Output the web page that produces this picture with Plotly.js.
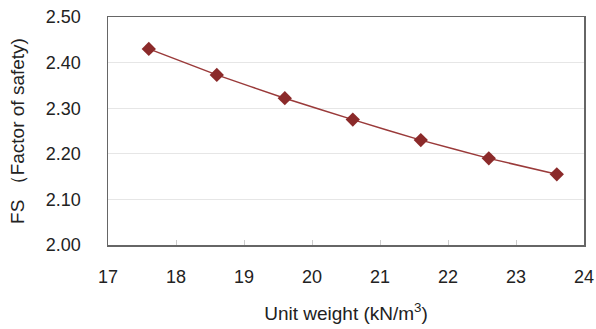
<!DOCTYPE html>
<html>
<head>
<meta charset="utf-8">
<script src="https://cdn.plot.ly/plotly-3.0.1.min.js"></script>
<style>html,body{margin:0;padding:0;background:#fff;}#chart{width:596px;height:329px;}</style>
</head>
<body>
<div id="chart"></div>
<script>
var unitWeight = [17.6, 18.6, 19.6, 20.6, 21.6, 22.6, 23.6];
var factorOfSafety = [2.430, 2.373, 2.322, 2.275, 2.230, 2.190, 2.155];
var xTicks = [17, 18, 19, 20, 21, 22, 23, 24];
var yTicks = [2.00, 2.10, 2.20, 2.30, 2.40, 2.50];
var yTickLabels = yTicks.map(function(v){ return v.toFixed(2); });

var trace = {
  x: unitWeight,
  y: factorOfSafety,
  type: 'scatter',
  mode: 'lines+markers',
  line: {color: '#9a3a3a', width: 1.5, shape: 'spline', smoothing: 0.3},
  marker: {symbol: 'diamond', size: 11, color: '#8b2a2a'},
  hoverinfo: 'x+y'
};

var fontFam = '"Liberation Sans", Arial, sans-serif';
var layout = {
  width: 596, height: 329,
  margin: {l: 108, r: 12, t: 17, b: 84},
  paper_bgcolor: '#fff', plot_bgcolor: '#fff',
  showlegend: false,
  font: {family: fontFam, color: '#222', size: 18},
  xaxis: {
    range: [17, 24], tickvals: xTicks, ticktext: xTicks.map(String),
    showgrid: false, zeroline: false,
    showline: true, mirror: true, linecolor: '#666', linewidth: 1.5,
    ticks: 'inside', ticklen: 5, tickcolor: '#ccc', tickwidth: 1,
    ticklabelstandoff: 15,
    tickfont: {size: 18, family: fontFam, color: '#222'},
    title: {text: 'Unit weight (kN/m<sup>3</sup>)', font: {size: 19, family: fontFam, color: '#222'}, standoff: 20}
  },
  yaxis: {
    range: [2.0, 2.5], tickvals: yTicks, ticktext: yTickLabels,
    showgrid: true, gridcolor: '#e6e6e6', gridwidth: 1, zeroline: false,
    showline: true, mirror: true, linecolor: '#666', linewidth: 1.5,
    ticks: '', ticklabelstandoff: 22,
    tickfont: {size: 18, family: fontFam, color: '#222'},
    title: {text: 'FS （Factor of safety)', font: {size: 19, family: fontFam, color: '#222'}, standoff: 16}
  }
};

Plotly.newPlot('chart', [trace], layout, {displayModeBar: false, staticPlot: true});
</script>
</body>
</html>
